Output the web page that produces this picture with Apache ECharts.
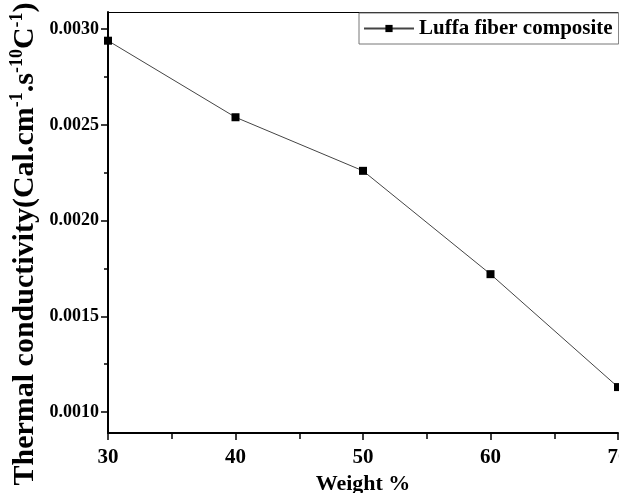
<!DOCTYPE html>
<html>
<head>
<meta charset="utf-8">
<script src="https://cdn.jsdelivr.net/npm/echarts@6/dist/echarts.min.js"></script>
<style>
html, body { margin: 0; padding: 0; background: #fff; }
#chart-container { width: 619px; height: 493px; }
</style>
</head>
<body>
<div id="chart-container"></div>
<script>
var weights = [30, 40, 50, 60, 70];
var conductivity = [0.00294, 0.00254, 0.00226, 0.00172, 0.00113];
var yMajorTicks = [0.001, 0.0015, 0.002, 0.0025, 0.003];
var yMinorTicks = [0.00125, 0.00175, 0.00225, 0.00275];
var seriesName = "Luffa fiber composite";

var font = "Liberation Serif";
var chart = echarts.init(document.getElementById("chart-container"));

var option = {
  animation: false,
  grid: {
    left: 108,
    right: 1,
    top: 12,
    bottom: 60,
    outerBoundsMode: "none",
    containLabel: false
  },
  legend: {
    left: 359,
    top: 13,
    padding: [5, 6, 5, 4],
    borderColor: "#777",
    borderWidth: 1,
    itemWidth: 50,
    itemHeight: 9,
    textStyle: {
      fontFamily: font,
      fontWeight: "bold",
      fontSize: 21,
      color: "#000"
    },
    data: [seriesName]
  },
  xAxis: [
    {
      type: "value",
      position: "bottom",
      min: 30,
      max: 70,
      interval: 10,
      name: "Weight %",
      nameLocation: "middle",
      nameGap: 40,
      nameTextStyle: {
        fontFamily: font,
        fontWeight: "bold",
        fontSize: 22,
        color: "#000"
      },
      axisLine: { lineStyle: { color: "#000", width: 2 } },
      axisTick: { length: 7, lineStyle: { color: "#000", width: 1.5 } },
      minorTick: { show: true, splitNumber: 2, length: 6, lineStyle: { color: "#000", width: 1.5 } },
      axisLabel: {
        margin: 14,
        fontFamily: font,
        fontWeight: "bold",
        fontSize: 21,
        color: "#000"
      },
      splitLine: { show: false }
    },
    {
      // top border
      type: "value",
      position: "top",
      min: 30,
      max: 70,
      axisLine: { lineStyle: { color: "#000", width: 1 } },
      axisTick: { show: false },
      axisLabel: { show: false },
      splitLine: { show: false }
    }
  ],
  yAxis: [
    {
      type: "value",
      position: "left",
      min: 0.00089,
      max: 0.00309,
      axisLine: { lineStyle: { color: "#000", width: 2 } },
      axisTick: { length: 7, customValues: yMajorTicks, lineStyle: { color: "#000", width: 1.5 } },
      axisLabel: {
        margin: 9,
        customValues: yMajorTicks,
        formatter: function(v) { return v.toFixed(4); },
        fontFamily: font,
        fontWeight: "bold",
        fontSize: 18,
        color: "#000"
      },
      splitLine: { show: false }
    },
    {
      // minor ticks only
      type: "value",
      position: "left",
      min: 0.00089,
      max: 0.00309,
      axisLine: { show: false },
      axisTick: { length: 4, customValues: yMinorTicks, lineStyle: { color: "#000", width: 1.5 } },
      axisLabel: { show: false },
      splitLine: { show: false }
    }
  ],
  graphic: [
    {
      type: "text",
      x: 25,
      y: 244,
      rotation: Math.PI / 2,
      style: {
        text: "Thermal conductivity(Cal.cm{s|-1}.s{s|-10}C{s|-1})",
        fontFamily: font,
        fontWeight: "bold",
        fontSize: 30,
        lineHeight: 34,
        fill: "#000",
        align: "center",
        verticalAlign: "middle",
        rich: {
          s: {
            fontFamily: font,
            fontWeight: "bold",
            fontSize: 18,
            verticalAlign: "top",
            fill: "#000"
          }
        }
      }
    }
  ],
  series: [
    {
      name: seriesName,
      type: "line",
      data: weights.map(function(w, i) { return [w, conductivity[i]]; }),
      symbol: "rect",
      symbolSize: 8,
      clip: false,
      lineStyle: { color: "#444", width: 1 },
      itemStyle: { color: "#000" }
    }
  ]
};
chart.setOption(option);
</script>
</body>
</html>
